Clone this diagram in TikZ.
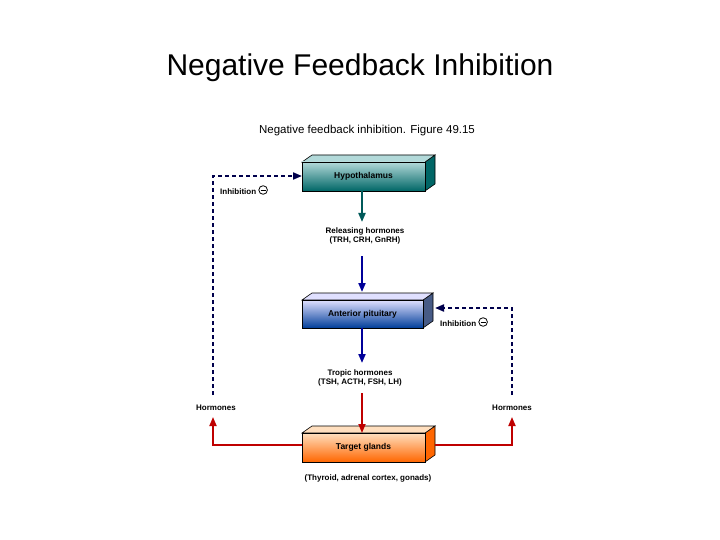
\documentclass[tikz,border=0pt]{standalone}
\usepackage{fontspec}
\setmainfont{Liberation Sans}
\usetikzlibrary{arrows.meta}
\colorlet{hypL}{teal!30}\colorlet{hypR}{teal!80!black}
\colorlet{antL}{blue!12}\colorlet{antR}{cyan!40!blue!60!black}
\colorlet{tarL}{orange!25}\colorlet{tarR}{orange!80!red}
\colorlet{dk}{blue!30!black}\colorlet{rd}{red!75!black}
\begin{document}
\begin{tikzpicture}[x=1pt,y=-1pt,
 lbl/.style={font=\bfseries\fontsize{8}{9.5}\selectfont,align=center,inner sep=0pt},
 boxlbl/.style={font=\bfseries\fontsize{8.5}{10}\selectfont,inner sep=0pt},
 fbdash/.style={draw=dk,line width=2pt,dash pattern=on 4pt off 3pt},
 redln/.style={draw=rd,line width=1.8pt}]
\useasboundingbox (0,0) rectangle (720,540);
\node[font=\fontsize{30}{34}\selectfont] (title) at (360,68) {Negative Feedback Inhibition};
\node[font=\fontsize{11.5}{13}\selectfont] (sub) at (367,131) {Negative feedback inhibition. Figure 49.15};
\newcommand{\bx}[7]{% x1 y1 x2 y2 colL colR name
 \filldraw[fill=#6,draw=black,line width=0.6pt] (#3,#2)--(#3+10,#2-7)--(#3+10,#4-7)--(#3,#4)--cycle;
 \filldraw[fill=#5,draw=black,line width=0.6pt] (#1,#2)--(#1+10,#2-7)--(#3+10,#2-7)--(#3,#2)--cycle;
 \shade[top color=#5,bottom color=#6,draw=black,line width=0.6pt] (#1,#2) rectangle (#3,#4);
 \coordinate (#7) at ({(#1+#3)/2},{(#2+#4)/2});}
\bx{302}{162}{425}{191}{hypL}{hypR}{hyp}
\node[boxlbl] (hypt) at (hyp) {Hypothalamus};
\bx{302}{300}{423}{328}{antL}{antR}{ant}
\node[boxlbl] (antt) at (ant) {Anterior pituitary};
\bx{302}{433}{425}{462}{tarL}{tarR}{tar}
\node[boxlbl] (tart) at (tar) {Target glands};
\node[lbl] (rel) at (365,236) {Releasing hormones\\(TRH, CRH, GnRH)};
\node[lbl] (tro) at (360,378) {Tropic hormones\\(TSH, ACTH, FSH, LH)};
\node[lbl] (thy) at (368,478) {(Thyroid, adrenal cortex, gonads)};
\draw[draw=teal!70!black,line width=2pt,-{Triangle[length=9pt,width=7pt,fill=teal!70!black]}] (362,191) -- (362,222);
\draw[draw=blue!60!black,line width=2pt,-{Triangle[length=9pt,width=7pt,fill=blue!60!black]}] (362,256) -- (362,292);
\draw[draw=blue!60!black,line width=2pt,-{Triangle[length=9pt,width=7pt,fill=blue!60!black]}] (362,328) -- (362,363);
\draw[redln,-{Triangle[length=9pt,width=7pt,fill=rd]}] (362,393) -- (362,433);
\coordinate (lt) at (213,176); \coordinate (lb) at (213,395);
\coordinate (rt) at (512,308); \coordinate (rb) at (512,395);
\draw[fbdash,-{Triangle[length=9pt,width=7pt,fill=dk]}] (lb) -- (lt) -- (302,176);
\draw[fbdash,-{Triangle[length=9pt,width=7pt,fill=dk]}] (rb) -- (rt) -- (435,308);
\newcommand{\minussym}{\raisebox{-0.5pt}{\tikz[x=1pt,y=1pt]{\draw[line width=0.8pt] (0,0) circle (4.3pt); \draw[line width=0.8pt] (-2.6,0)--(2.6,0);}}}
\node[lbl,anchor=west] (inh1) at (220,190) {Inhibition \minussym};
\node[lbl,anchor=west] (inh2) at (440,322) {Inhibition \minussym};
\node[lbl] (h1) at (216,408) {Hormones};
\node[lbl] (h2) at (512,408) {Hormones};
\draw[redln,-{Triangle[length=9pt,width=7pt,fill=rd]}] (302,445) -- (213,445) -- (213,417);
\draw[redln,-{Triangle[length=9pt,width=7pt,fill=rd]}] (435,445) -- (512,445) -- (512,417);
\end{tikzpicture}
\end{document}
